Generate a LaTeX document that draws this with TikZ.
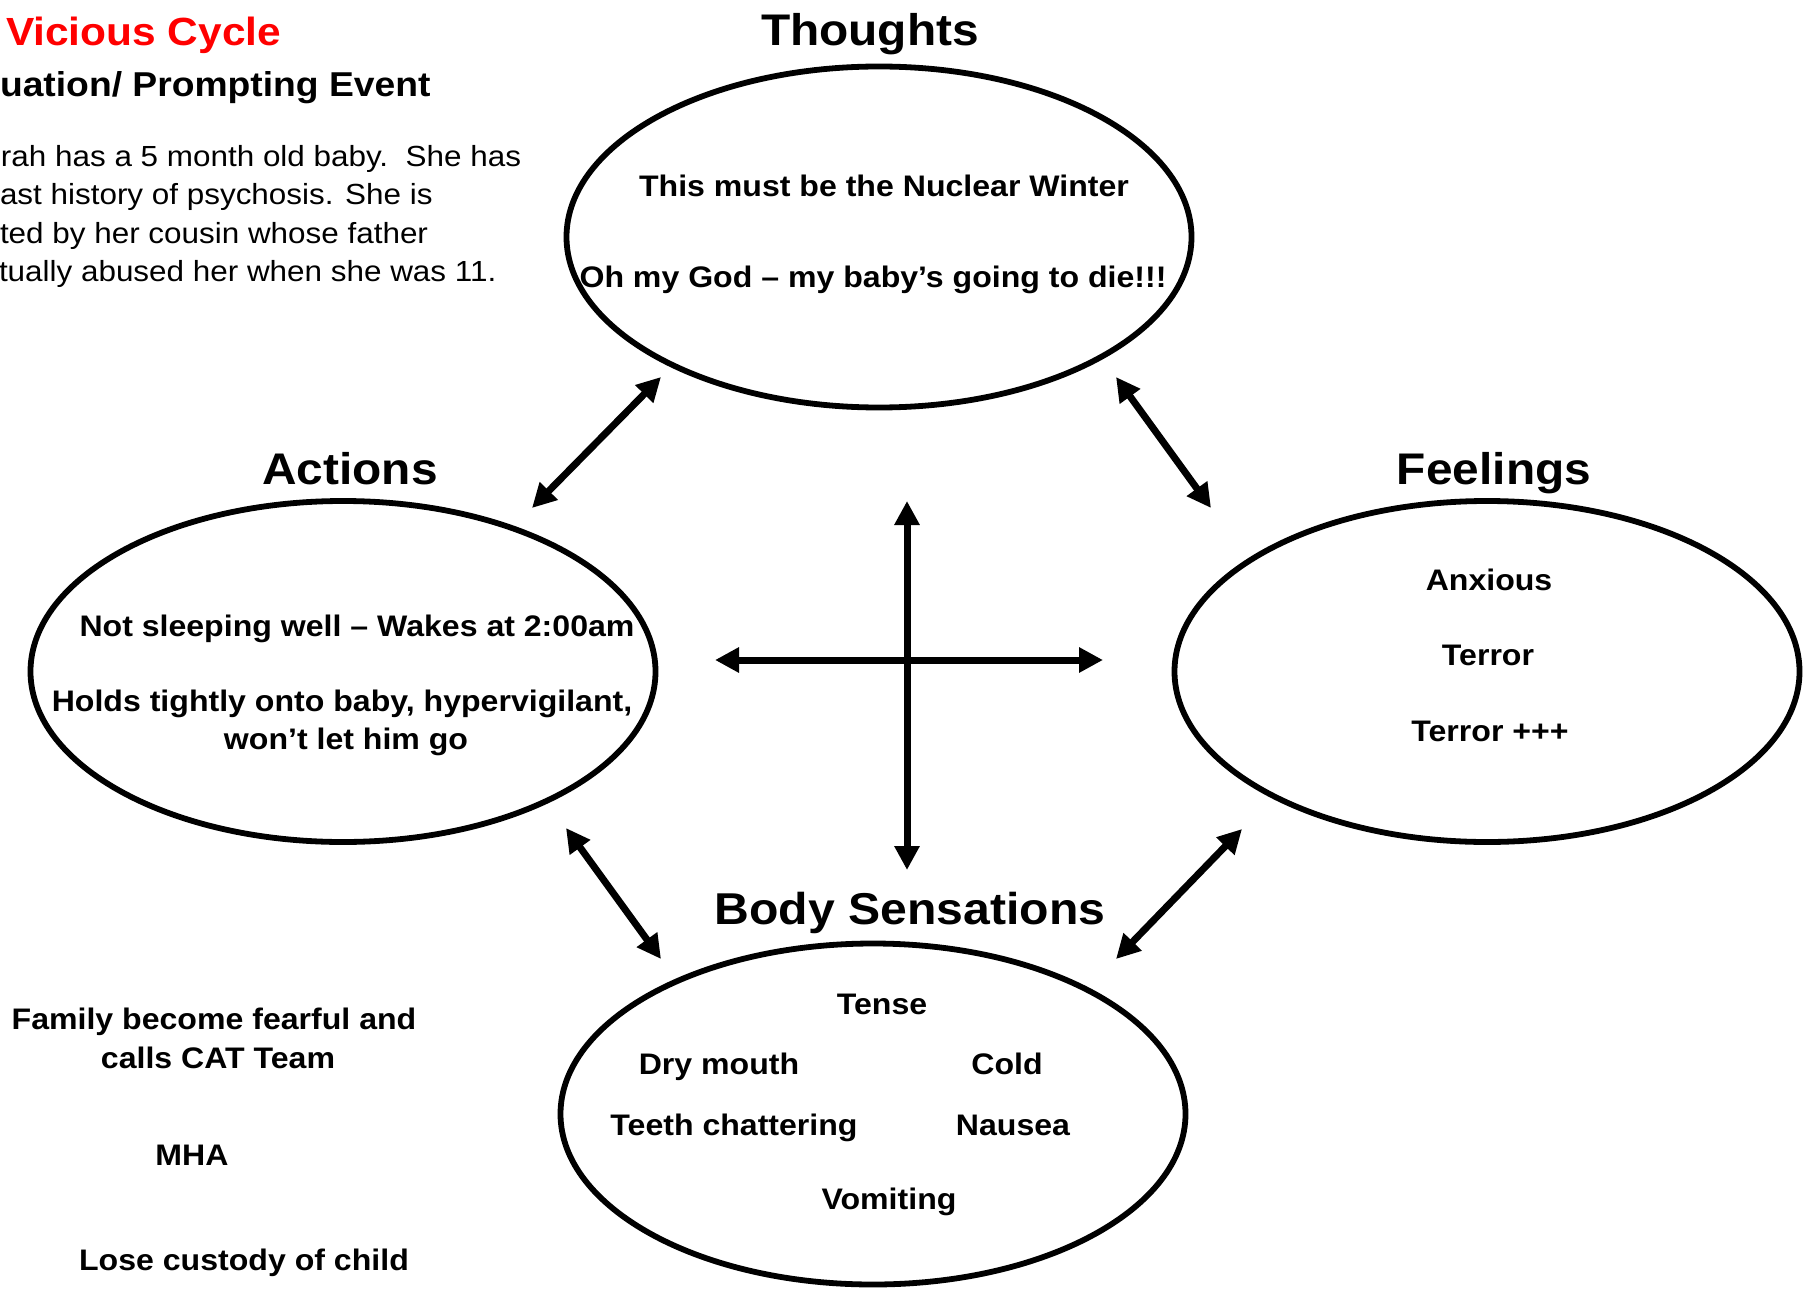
\documentclass[tikz,border=0pt]{standalone}
\usepackage{fontspec}
\setmainfont{Liberation Sans}[FakeStretch=1.08]
\usetikzlibrary{shapes.geometric,arrows.meta}
\definecolor{titlered}{RGB}{255,0,0}
\tikzset{
  txt/.style={inner sep=0pt, outer sep=0pt, text height=21.3pt, text depth=0pt,
    font=\bfseries\fontsize{29.7}{35}\selectfont},
  plain/.style={inner sep=0pt, outer sep=0pt, text height=21.0pt, text depth=0pt,
    font=\fontsize{29.1}{35}\selectfont, anchor=west},
  ttl/.style={inner sep=0pt, outer sep=0pt, text height=31.7pt, text depth=0pt,
    font=\bfseries\fontsize{44.3}{50}\selectfont},
  oval/.style={ellipse, draw, line width=5.8pt, minimum width=625pt,
    minimum height=341pt, inner sep=0pt},
  link/.style={line width=7pt,
    {Triangle[length=24pt,width=24pt]}-{Triangle[length=24pt,width=24pt]}},
}
\begin{document}
\begin{tikzpicture}[x=1pt,y=-1pt]
\useasboundingbox (0,0) rectangle (1803,1289);
\clip (0,0) rectangle (1803,1289);
\fill[white] (0,0) rectangle (1803,1289);

% ellipses
\node[oval] (thoughts) at (879,237) {};
\node[oval] (actions) at (343,671.5) {};
\node[oval] (feelings) at (1487,671.5) {};
\node[oval] (body) at (873,1114) {};

% titles
\node[ttl] (tthoughts) at (870,30) {Thoughts};
\node[ttl] (tactions) at (350,469) {Actions};
\node[ttl] (tfeelings) at (1494,469) {Feelings};
\node[ttl, font=\bfseries\fontsize{44.6}{50}\selectfont, text height=32pt] (tbody) at (910,908) {Body Sensations};

% header
\node[txt, anchor=west, text=titlered, font=\bfseries\fontsize{39.3}{45}\selectfont, text height=28.2pt] (vicious) at (6,31) {Vicious Cycle};
\node[txt, anchor=west, font=\bfseries\fontsize{34.5}{40}\selectfont, text height=24.8pt] (situation) at (0,84) {uation/ Prompting Event};
\node[plain] (s1) at (1,156) {rah has a 5 month old baby.\ \ She has};
\node[plain] (s2) at (0,194) {ast history of psychosis. She is};
\node[plain] (s3) at (0,233) {ted by her cousin whose father};
\node[plain] (s4) at (-1,271) {tually abused her when she was 11.};

% thoughts text
\node[txt] (th1) at (884,186) {This must be the Nuclear Winter};
\node[txt] (th2) at (873,277) {Oh my God – my baby’s going to die!!!};

% actions text
\node[txt] (ac1) at (357,626) {Not sleeping well – Wakes at 2:00am};
\node[txt] (ac2) at (342,701) {Holds tightly onto baby, hypervigilant,};
\node[txt] (ac3) at (346,739) {won’t let him go};

% feelings text
\node[txt] (fe1) at (1489,580) {Anxious};
\node[txt] (fe2) at (1488,655) {Terror};
\node[txt] (fe3) at (1490,731) {Terror +++};

% body text
\node[txt] (bo1) at (882,1004) {Tense};
\node[txt] (bo2) at (719,1064) {Dry mouth};
\node[txt] (bo3) at (1007,1064) {Cold};
\node[txt] (bo4) at (734,1125) {Teeth chattering};
\node[txt] (bo5) at (1013,1125) {Nausea};
\node[txt] (bo6) at (889,1199) {Vomiting};

% consequences
\node[txt] (co1) at (214,1019) {Family become fearful and};
\node[txt] (co2) at (218,1058) {calls CAT Team};
\node[txt] (co3) at (192,1155) {MHA};
\node[txt] (co4) at (244,1260) {Lose custody of child};

% arrow end points
\coordinate (taT) at (661,377);
\coordinate (taA) at (532,508);
\coordinate (tfT) at (1116,377);
\coordinate (tfF) at (1211,508);
\coordinate (abA) at (566,828);
\coordinate (abB) at (661,959);
\coordinate (fbF) at (1242,829);
\coordinate (fbB) at (1116,959);
\coordinate (vTop) at (907,501);
\coordinate (vBot) at (907,870);
\coordinate (hL) at (715,660);
\coordinate (hR) at (1103,660);

\draw[link] (taT) -- (taA);
\draw[link] (tfT) -- (tfF);
\draw[link] (abA) -- (abB);
\draw[link] (fbF) -- (fbB);
\draw[link] (vTop) -- (vBot);
\draw[link] (hL) -- (hR);
\end{tikzpicture}
\end{document}
